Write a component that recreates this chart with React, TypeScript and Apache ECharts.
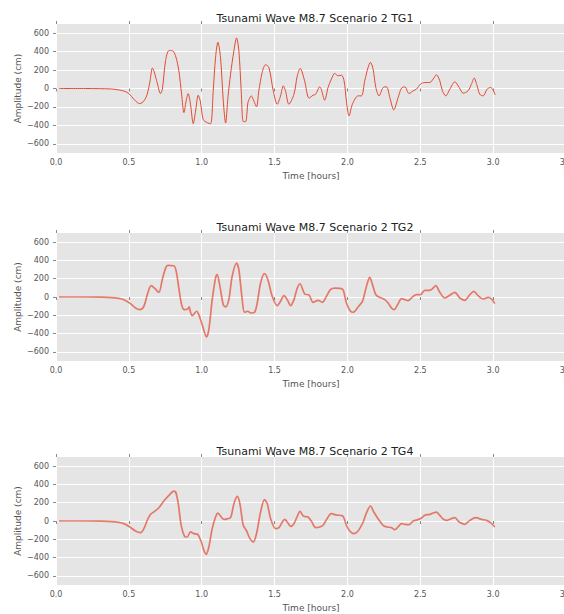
import React, { useEffect, useRef } from 'react';
import * as echarts from 'echarts';

const titles = [
  'Tsunami Wave M8.7 Scenario 2 TG1',
  'Tsunami Wave M8.7 Scenario 2 TG2',
  'Tsunami Wave M8.7 Scenario 2 TG4',
];
const yTickValues = [-600, -400, -200, 0, 200, 400, 600];
const xLabel = 'Time [hours]';
const yLabel = 'Amplitude (cm)';

const tg1: number[][] = [
  [0.02, 0], [0.2, 0], [0.3, -2], [0.38, -5], [0.43, -15], [0.466, -28], [0.5, -55], [0.534, -116],
  [0.56, -155], [0.575, -164], [0.603, -135], [0.626, -62], [0.645, 80], [0.662, 222], [0.694, 65],
  [0.717, -55], [0.73, -7], [0.752, 302], [0.775, 411], [0.797, 411], [0.82, 356], [0.843, 193],
  [0.862, -62], [0.878, -262], [0.893, -135], [0.907, -55], [0.923, -171], [0.942, -382], [0.958, -244],
  [0.976, -73], [0.99, -135], [1.01, -335], [1.038, -371], [1.061, -382], [1.079, -25], [1.095, 338],
  [1.111, 502], [1.129, 338], [1.148, -135], [1.164, -375], [1.18, -98], [1.198, 156], [1.221, 411],
  [1.239, 549], [1.255, 411], [1.271, -25], [1.285, -360], [1.301, -360], [1.317, -153], [1.326, -116],
  [1.34, -80], [1.358, -135], [1.376, -200], [1.392, -25], [1.415, 175], [1.438, 258], [1.461, 229],
  [1.491, -25], [1.518, -171], [1.541, -80], [1.56, 29], [1.575, -25], [1.598, -171], [1.633, -62],
  [1.656, 138], [1.676, 218], [1.705, 90], [1.737, -105], [1.764, -73], [1.782, -62], [1.81, 18],
  [1.82, -7], [1.844, -127], [1.867, 11], [1.89, 102], [1.913, 164], [1.936, 138], [1.959, 145],
  [1.977, 84], [1.993, -135], [2.011, -298], [2.034, -171], [2.073, -80], [2.096, -80], [2.119, 84],
  [2.142, 229], [2.158, 284], [2.176, 211], [2.195, 11], [2.217, -80], [2.245, 11], [2.268, 18],
  [2.291, -98], [2.318, -233], [2.348, -98], [2.371, 4], [2.394, 18], [2.423, -55], [2.451, -25],
  [2.474, -7], [2.501, 47], [2.531, 65], [2.565, 65], [2.588, 102], [2.611, 149], [2.634, 84],
  [2.652, -25], [2.675, -80], [2.703, -7], [2.737, 73], [2.767, 11], [2.794, -51], [2.828, -25],
  [2.851, 47], [2.87, 113], [2.89, 29], [2.908, -62], [2.931, -80], [2.959, -7], [2.982, 11],
  [3.0, -18], [3.014, -69],
];

const tg2: number[][] = [
  [0.02, 0], [0.2, 0], [0.3, -2], [0.38, -6], [0.43, -15], [0.466, -29], [0.511, -73], [0.546, -120],
  [0.576, -138], [0.603, -102], [0.63, 44], [0.653, 124], [0.676, 98], [0.706, 51], [0.729, 189],
  [0.752, 316], [0.768, 345], [0.809, 342], [0.825, 280], [0.843, 98], [0.862, -84], [0.882, -138],
  [0.905, -131], [0.914, -109], [0.923, -167], [0.935, -204], [0.965, -156], [0.98, -193], [1.003, -302],
  [1.033, -436], [1.049, -356], [1.072, -29], [1.095, 207], [1.106, 244], [1.125, 116], [1.148, -84],
  [1.164, -109], [1.186, -29], [1.209, 225], [1.239, 371], [1.255, 298], [1.278, -29], [1.294, -167],
  [1.317, -156], [1.335, -175], [1.363, -167], [1.381, -65], [1.404, 153], [1.431, 255], [1.454, 189],
  [1.484, 7], [1.518, -95], [1.541, -47], [1.564, 15], [1.587, -29], [1.61, -95], [1.633, -29],
  [1.656, 98], [1.674, 145], [1.707, 33], [1.737, 22], [1.764, -58], [1.799, -36], [1.828, -58],
  [1.856, 7], [1.883, 80], [1.913, 98], [1.947, 95], [1.97, 80], [1.993, -65], [2.021, -156],
  [2.039, -167], [2.073, -109], [2.103, -47], [2.119, 44], [2.137, 153], [2.153, 215], [2.172, 135],
  [2.195, 25], [2.222, -4], [2.256, -29], [2.279, -65], [2.302, -120], [2.32, -138], [2.348, -73],
  [2.371, -18], [2.394, -29], [2.416, -40], [2.451, 7], [2.474, 25], [2.501, 25], [2.531, 73],
  [2.565, 73], [2.588, 98], [2.606, 124], [2.634, 51], [2.668, -11], [2.691, 7], [2.737, 51],
  [2.771, -11], [2.805, -36], [2.84, 25], [2.867, 62], [2.897, 15], [2.931, -22], [2.966, -4],
  [2.989, -22], [3.011, -73],
];

const tg4: number[][] = [
  [0.02, 0], [0.2, 0], [0.3, -2], [0.38, -6], [0.43, -15], [0.466, -29], [0.507, -65], [0.545, -109],
  [0.58, -127], [0.603, -84], [0.626, 7], [0.649, 73], [0.676, 105], [0.706, 145], [0.74, 218],
  [0.775, 280], [0.809, 327], [0.822, 316], [0.839, 189], [0.859, -47], [0.882, -167], [0.9, -175],
  [0.923, -120], [0.946, -138], [0.974, -149], [0.997, -229], [1.015, -320], [1.031, -364], [1.049, -284],
  [1.072, -84], [1.095, 44], [1.111, 87], [1.134, 44], [1.152, 18], [1.175, 25], [1.198, 36],
  [1.221, 189], [1.244, 269], [1.262, 189], [1.285, -47], [1.308, -109], [1.331, -193], [1.354, -229],
  [1.376, -138], [1.404, 98], [1.431, 233], [1.45, 189], [1.473, 25], [1.507, -84], [1.53, -73],
  [1.553, -11], [1.569, 18], [1.587, -11], [1.61, -58], [1.633, -29], [1.656, 51], [1.674, 105],
  [1.7, 51], [1.73, 44], [1.753, -4], [1.783, -73], [1.81, -65], [1.833, -47], [1.86, 25], [1.89, 80],
  [1.924, 65], [1.966, 58], [1.993, -47], [2.016, -109], [2.043, -138], [2.073, -109], [2.108, -11],
  [2.13, 87], [2.158, 164], [2.181, 98], [2.21, 25], [2.245, -47], [2.272, -65], [2.302, -73],
  [2.325, -95], [2.348, -65], [2.371, -29], [2.394, -36], [2.423, -40], [2.451, 0], [2.485, 15],
  [2.508, 33], [2.531, 62], [2.565, 73], [2.588, 87], [2.611, 98], [2.634, 62], [2.657, 22],
  [2.684, 7], [2.707, 22], [2.737, 36], [2.767, -11], [2.805, -36], [2.84, 7], [2.881, 36],
  [2.92, 18], [2.954, 7], [2.982, -18], [3.011, -65],
];

const seriesData = [tg1, tg2, tg4];

export default function App() {
  const ref = useRef<HTMLDivElement>(null);
  useEffect(() => {
    const chart = echarts.init(ref.current!, null, { renderer: 'svg' });
    const font = 'DejaVu Sans';
    const gridPos = [
      { top: 24, height: 129, titleTop: 8 },
      { top: 233, height: 128, titleTop: 217 },
      { top: 457, height: 128, titleTop: 441 },
    ];
    const grid = gridPos.map((g) => ({
      left: 56, width: 510, top: g.top, height: g.height,
      show: true, backgroundColor: '#E5E5E5', borderWidth: 0,
      containLabel: false, outerBoundsMode: 'none',
    }));
    const title = gridPos.map((g, i) => ({
      text: titles[i], left: 310, top: g.titleTop, textAlign: 'center',
      textStyle: { fontFamily: font, fontSize: 11, fontWeight: 'normal', color: '#222' },
    }));
    const xAxis: any[] = [];
    const yAxis: any[] = [];
    gridPos.forEach((g, i) => {
      xAxis.push({
        type: 'value', gridIndex: i, min: 0, max: 3.5, interval: 0.5, position: 'bottom',
        name: xLabel, nameLocation: 'middle', nameGap: 18, nameMoveOverlap: false,
        nameTextStyle: { fontFamily: font, fontSize: 9, color: '#555' },
        axisLine: { show: false },
        axisTick: { show: true, length: 3, lineStyle: { color: '#888' } },
        axisLabel: {
          fontFamily: font, fontSize: 8, color: '#555', margin: 5, showMaxLabel: true, showMinLabel: true,
          formatter: (v: number) => v.toFixed(1),
        },
        splitLine: { show: true, lineStyle: { color: '#FFFFFF', width: 1 } },
      });
      xAxis.push({
        type: 'value', gridIndex: i, min: 0, max: 3.5, interval: 0.5, position: 'top',
        axisLine: { show: false },
        axisTick: { show: true, length: 3, lineStyle: { color: '#888' } },
        axisLabel: { show: false },
        splitLine: { show: false },
      });
      yAxis.push({
        type: 'value', gridIndex: i, min: -700, max: 700,
        name: yLabel, nameLocation: 'middle', nameGap: 34, nameMoveOverlap: false,
        nameTextStyle: { fontFamily: font, fontSize: 9, color: '#555' },
        axisLine: { show: false },
        axisTick: { show: true, length: 3, lineStyle: { color: '#888' }, customValues: yTickValues },
        axisLabel: {
          fontFamily: font, fontSize: 8, color: '#555', margin: 7, customValues: yTickValues,
          formatter: (v: number) => String(v).replace('-', '\u2212'),
        },
        splitLine: { show: true, lineStyle: { color: '#FFFFFF', width: 1 } },
      });
    });
    const series = seriesData.map((d, i) => ({
      type: 'line', xAxisIndex: i * 2, yAxisIndex: i, data: d,
      showSymbol: false, smooth: 0.3, clip: true,
      lineStyle: i === 0
        ? { color: '#E24A33', width: 1 }
        : { color: '#E24A33', width: 1.7, opacity: 0.7 },
      itemStyle: { color: '#E24A33' },
    }));
    chart.setOption({
      animation: false,
      backgroundColor: '#FFFFFF',
      title, grid, xAxis, yAxis, series,
    });
    return () => chart.dispose();
  }, []);
  return <div ref={ref} style={{ position: 'fixed', left: 0, top: 0, width: 564, height: 614 }} />;
}
